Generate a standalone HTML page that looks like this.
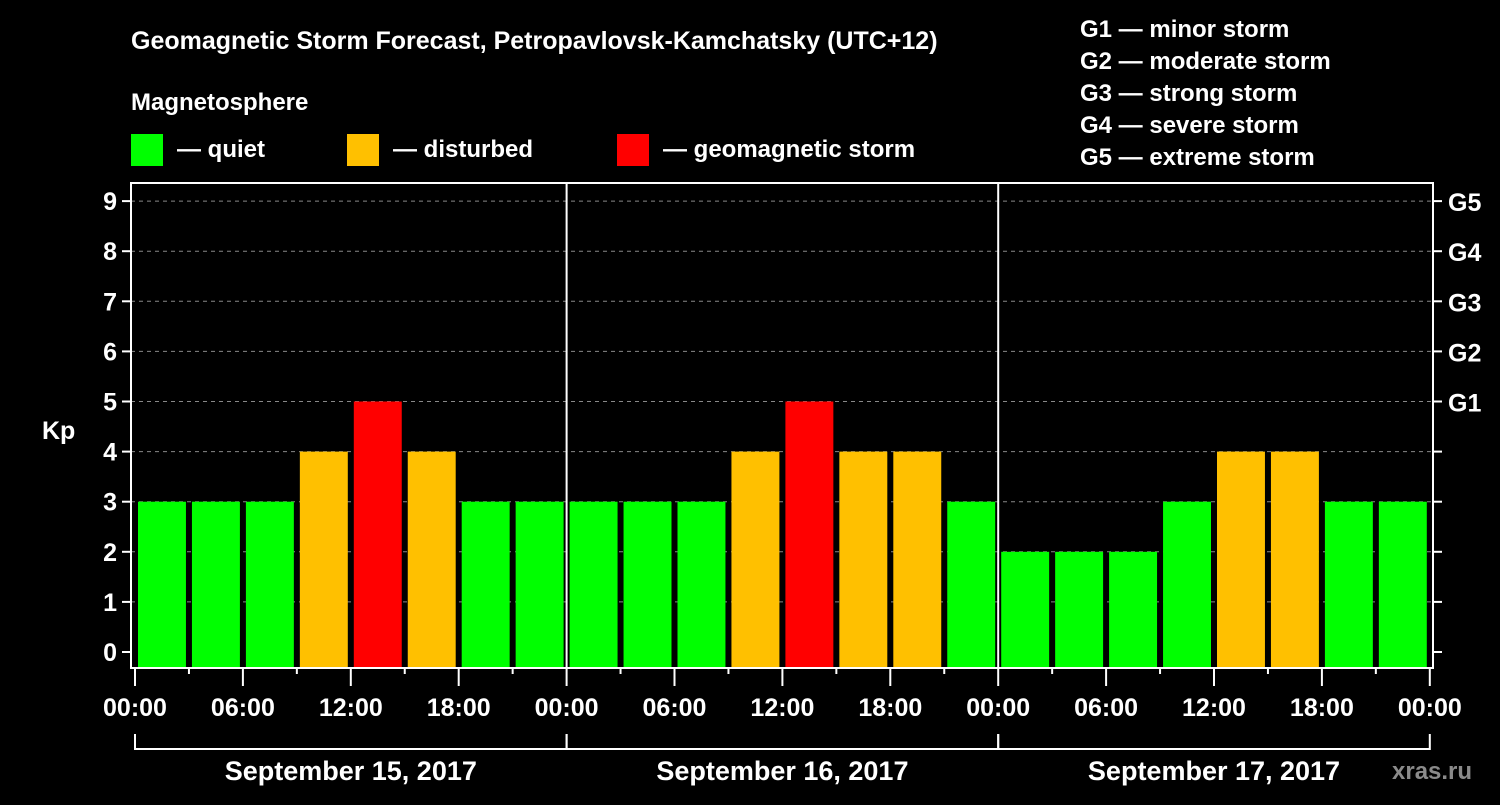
<!DOCTYPE html>
<html><head><meta charset="utf-8"><style>
body{margin:0;background:#000;width:1500px;height:800px;overflow:hidden;font-family:"Liberation Sans",sans-serif}
svg text{font-family:"Liberation Sans",sans-serif;font-weight:bold;fill:#fff}
</style></head><body>
<svg id="c" width="1500" height="800">
<text x="131" y="49" font-size="25">Geomagnetic Storm Forecast, Petropavlovsk-Kamchatsky (UTC+12)</text>
<text x="131" y="110" font-size="24">Magnetosphere</text>
<g><rect x="131" y="134" width="32" height="32" fill="#00ff00"/><text x="177" y="157" font-size="24">— quiet</text></g>
<g><rect x="347" y="134" width="32" height="32" fill="#ffc000"/><text x="393" y="157" font-size="24">— disturbed</text></g>
<g><rect x="617" y="134" width="32" height="32" fill="#ff0000"/><text x="663" y="157" font-size="24">— geomagnetic storm</text></g>
<g font-size="24">
<text x="1080" y="37">G1 — minor storm</text><text x="1080" y="69">G2 — moderate storm</text><text x="1080" y="101">G3 — strong storm</text><text x="1080" y="133">G4 — severe storm</text><text x="1080" y="165">G5 — extreme storm</text>
</g>
<text x="42" y="439" font-size="25">Kp</text>
<text x="1392" y="779" font-size="24" fill="#888" style="fill:#8a8a8a">xras.ru</text>
<g id="grid"></g><g id="bars"></g><g id="axes"></g>
</svg>
<script>
const days=["September 15, 2017","September 16, 2017","September 17, 2017"];
const kpValues=[3,3,3,4,5,4,3,3, 3,3,3,4,5,4,4,3, 2,2,2,3,4,4,3,3];
const yTicks=[0,1,2,3,4,5,6,7,8,9];
const gLabels=["G1","G2","G3","G4","G5"];
const timeLabels=["00:00","06:00","12:00","18:00"];
const NS="http://www.w3.org/2000/svg";
const X0=135,SLOT=53.95,LEFT=131,RIGHT=1433,TOP=183,BOT=668;
const y=v=>652-v*50.1;
const x=i=>X0+i*SLOT;
function mk(p,t,a){const e=document.createElementNS(NS,t);for(const k in a)e.setAttribute(k,a[k]);p.appendChild(e);return e;}
const grid=document.getElementById('grid'),bars=document.getElementById('bars'),axes=document.getElementById('axes');
yTicks.forEach(v=>{
  if(v>0){const l=mk(grid,'line',{x1:LEFT,x2:RIGHT,y1:y(v),y2:y(v),stroke:'#888','stroke-dasharray':'4,4'});
  
  }
  const t=mk(axes,'line',{x1:LEFT-9,x2:LEFT,y1:y(v),y2:y(v),stroke:'#fff','stroke-width':2});
  
  
  const rt=mk(axes,'line',{x1:RIGHT,x2:RIGHT+9,y1:y(v),y2:y(v),stroke:'#fff','stroke-width':2});
  
  
  const tx=mk(axes,'text',{x:LEFT-14,y:y(v)+9,'font-size':25,'text-anchor':'end'});tx.textContent=v;
  
  
});
gLabels.forEach((g,i)=>{const t=mk(axes,'text',{x:1448,y:y(5+i)+10,'font-size':25});t.textContent=g;
  
  });
kpValues.forEach((v,i)=>{
  const col=v>=5?'#ff0000':v>=4?'#ffc000':'#00ff00';
  const r=mk(bars,'rect',{x:x(i)+3,y:y(v),width:SLOT-6,height:BOT-y(v),fill:col});
  
  
});
const box=mk(axes,'rect',{x:LEFT,y:TOP,width:RIGHT-LEFT,height:BOT-TOP,fill:'none',stroke:'#fff','stroke-width':2});


for(let d=1;d<days.length;d++){const l=mk(axes,'line',{x1:x(d*8),x2:x(d*8),y1:TOP,y2:BOT,stroke:'#fff','stroke-width':2});
  
  }
for(let i=0;i<=days.length*8;i++){
  const major=i%2==0;
  const t=mk(axes,'line',{x1:x(i),x2:x(i),y1:BOT,y2:BOT+(major?18:6),stroke:'#fff','stroke-width':2});
  
  
  if(major){const tx=mk(axes,'text',{x:x(i),y:BOT+48,'font-size':25,'text-anchor':'middle'});tx.textContent=timeLabels[(i/2)%4];
  
  }
}
days.forEach((d,k)=>{
  const a=x(k*8),b=x(k*8+8);
  const p=mk(axes,'path',{d:`M${a} 734V749H${b}V734`,stroke:'#fff','stroke-width':2,fill:'none'});
  
  
  const t=mk(axes,'text',{x:(a+b)/2,y:780,'font-size':27,'text-anchor':'middle'});t.textContent=d;
  
  
});
</script>
</body></html>
